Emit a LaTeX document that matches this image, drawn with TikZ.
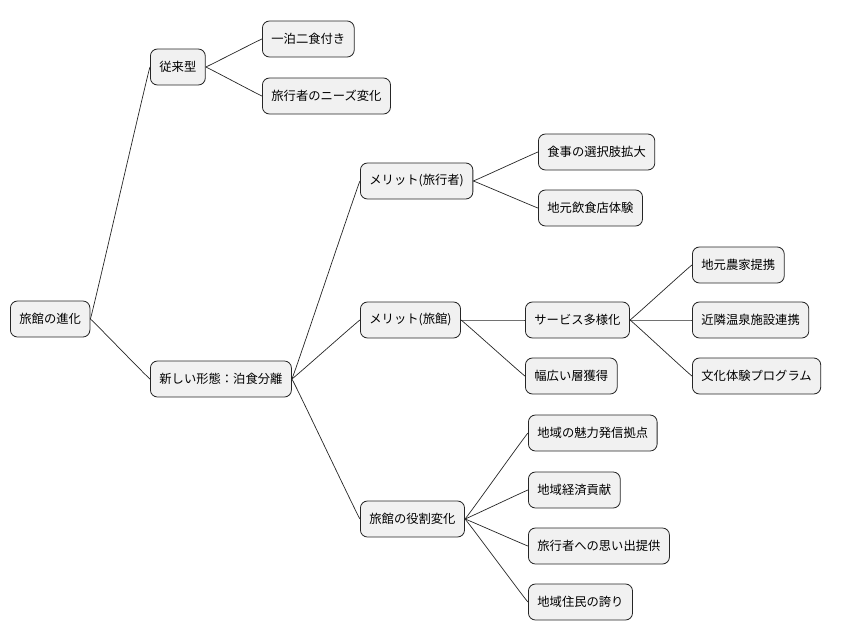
\documentclass[tikz,border=0pt]{standalone}
\usepackage{fontspec}
\setmainfont{Noto Sans CJK JP}
\usepackage{tikz}
\definecolor{boxfill}{HTML}{F1F1F1}
\tikzset{topic/.style={draw=black!85,fill=boxfill,rounded corners=6pt,line width=0.7pt,
  minimum height=1.08cm,inner xsep=0.27cm,anchor=west,font=\fontsize{10.5}{12}\selectfont},
  link/.style={draw=black!85,line width=0.6pt}}
\newcommand{\branch}[2]{\draw[link] (#1.east) .. controls +(1.0,0) and +(-1.0,0) .. (#2.west);}
\begin{document}
\begin{tikzpicture}[x=0.03cm,y=-0.03cm]
\useasboundingbox (0,0) rectangle (849,640);
% root and first level
\node[topic] (root) at (10,319) {旅館の進化};
\node[topic] (old) at (150,67) {従来型};
\node[topic] (new) at (150,379) {新しい形態：泊食分離};
% traditional
\node[topic] (meals) at (262,39) {一泊二食付き};
\node[topic] (needs) at (262,96) {旅行者のニーズ変化};
% merits and role
\node[topic] (mtrav) at (360,181) {メリット(旅行者)};
\node[topic] (mryo) at (360,320) {メリット(旅館)};
\node[topic] (role) at (360,519) {旅館の役割変化};
\node[topic] (choice) at (538,152) {食事の選択肢拡大};
\node[topic] (local) at (538,208) {地元飲食店体験};
\node[topic] (serv) at (525,320) {サービス多様化};
\node[topic] (wide) at (525,376) {幅広い層獲得};
\node[topic] (farm) at (692,265) {地元農家提携};
\node[topic] (onsen) at (692,320) {近隣温泉施設連携};
\node[topic] (cult) at (692,376) {文化体験プログラム};
\node[topic] (hub) at (528,433) {地域の魅力発信拠点};
\node[topic] (econ) at (528,490) {地域経済貢献};
\node[topic] (memo) at (528,546) {旅行者への思い出提供};
\node[topic] (pride) at (528,602) {地域住民の誇り};
% connectors
\branch{root}{old} \branch{root}{new}
\branch{old}{meals} \branch{old}{needs}
\branch{new}{mtrav} \branch{new}{mryo} \branch{new}{role}
\branch{mtrav}{choice} \branch{mtrav}{local}
\branch{mryo}{serv} \branch{mryo}{wide}
\branch{serv}{farm} \branch{serv}{onsen} \branch{serv}{cult}
\branch{role}{hub} \branch{role}{econ} \branch{role}{memo} \branch{role}{pride}
\end{tikzpicture}
\end{document}
